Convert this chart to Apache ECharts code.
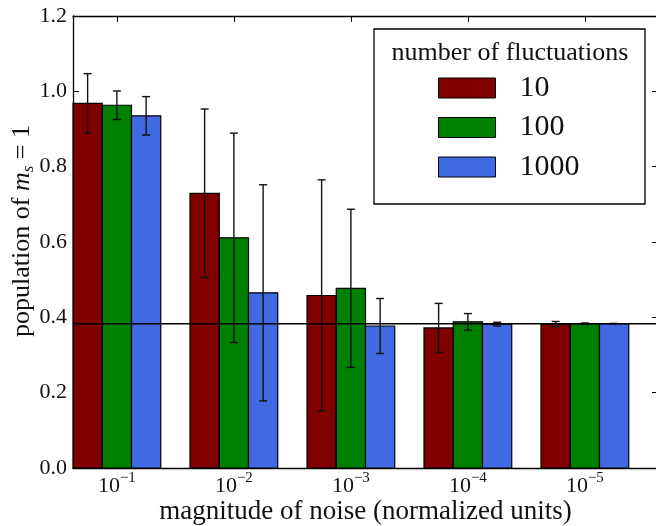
<!DOCTYPE html>
<html>
<head>
<meta charset="utf-8">
<script src="https://cdn.jsdelivr.net/npm/echarts@6/dist/echarts.min.js"></script>
<style>
html,body{margin:0;padding:0;background:#fff;}
#chart{width:656px;height:526px;}
</style>
</head>
<body>
<div id="chart"></div>
<script>
// ---- data ----
var groupExponents = ['1', '2', '3', '4', '5'];          // tick labels 10^-n
var seriesNames = ['10', '100', '1000'];                  // number of fluctuations
var means10   = [0.968, 0.729, 0.458, 0.372, 0.382];
var means100  = [0.963, 0.611, 0.477, 0.388, 0.383];
var means1000 = [0.935, 0.465, 0.377, 0.382, 0.383];
var errs10    = [0.079, 0.224, 0.307, 0.065, 0.007];
var errs100   = [0.038, 0.278, 0.210, 0.022, 0.002];
var errs1000  = [0.051, 0.287, 0.073, 0.005, 0.001];
var referenceLevel = 0.383;

var FONT = 'Liberation Serif';
var colors = ['#800000', '#008000', '#4169E1'];
var means = [means10, means100, means1000];
var errs = [errs10, errs100, errs1000];
var BAR_W = 0.25;
var tickValues = groupExponents.map(function (e, i) { return i + 1.5 * BAR_W; });

var chart = echarts.init(document.getElementById('chart'), null, {renderer: 'canvas'});

function renderBar(params, api) {
  var x = api.value(0), y = api.value(1), e = api.value(2);
  var p0 = api.coord([x - BAR_W / 2, 0]);
  var p1 = api.coord([x + BAR_W / 2, y]);
  var eTop = api.coord([x, y + e]);
  var eBot = api.coord([x, y - e]);
  var cap = 4;
  return {
    type: 'group',
    children: [
      {type: 'rect', shape: {x: p0[0], y: p1[1], width: p1[0] - p0[0], height: p0[1] - p1[1]},
       style: {fill: api.visual('color'), stroke: '#000', lineWidth: 1.2}},
      {type: 'line', shape: {x1: eTop[0], y1: eTop[1], x2: eBot[0], y2: eBot[1]},
       style: {stroke: '#111', lineWidth: 1.4}, z2: 5},
      {type: 'line', shape: {x1: eTop[0] - cap, y1: eTop[1], x2: eTop[0] + cap, y2: eTop[1]},
       style: {stroke: '#111', lineWidth: 1.4}, z2: 5},
      {type: 'line', shape: {x1: eBot[0] - cap, y1: eBot[1], x2: eBot[0] + cap, y2: eBot[1]},
       style: {stroke: '#111', lineWidth: 1.4}, z2: 5}
    ]
  };
}

var series = seriesNames.map(function (name, s) {
  return {
    name: name,
    type: 'custom',
    xAxisIndex: 0, yAxisIndex: 0,
    itemStyle: {color: colors[s], borderColor: '#000', borderWidth: 1},
    renderItem: renderBar,
    encode: {x: 0, y: 1},
    data: means[s].map(function (m, i) { return [i + BAR_W / 2 + s * BAR_W, m, errs[s][i]]; }),
    z: 2
  };
});
series.push({
  name: 'ref',
  type: 'line',
  xAxisIndex: 0, yAxisIndex: 0,
  data: [[0, referenceLevel], [5, referenceLevel]],
  symbol: 'none',
  lineStyle: {color: '#000', width: 1.3},
  silent: true,
  z: 4
});

function axLine() { return {show: true, onZero: false, lineStyle: {color: '#000', width: 1.3}}; }
function ticks(custom) {
  var t = {show: true, inside: true, length: 6, lineStyle: {color: '#000', width: 1}};
  if (custom) t.customValues = custom;
  return t;
}

var option = {
  animation: false,
  backgroundColor: '#fff',
  textStyle: {fontFamily: FONT},
  grid: {left: 73, top: 16, width: 585, height: 452, containLabel: false, outerBoundsMode: 'none'},
  xAxis: [{
    type: 'value', min: 0, max: 5, position: 'bottom',
    axisLine: axLine(),
    axisTick: ticks(tickValues),
    splitLine: {show: false},
    axisLabel: {
      customValues: tickValues,
      margin: 3,
      formatter: function (v) {
        var i = Math.round(v - 1.5 * BAR_W);
        return '{b|10}{s|\u2212' + groupExponents[i] + '}';
      },
      rich: {
        b: {fontFamily: FONT, fontSize: 22, color: '#111', verticalAlign: 'bottom', lineHeight: 26},
        s: {fontFamily: FONT, fontSize: 15, color: '#111', verticalAlign: 'top', lineHeight: 15}
      }
    },
    name: 'magnitude of noise (normalized units)',
    nameLocation: 'middle',
    nameMoveOverlap: false,
    nameGap: 30,
    nameTextStyle: {fontFamily: FONT, fontSize: 27, color: '#111'}
  }, {
    type: 'value', min: 0, max: 5, position: 'top',
    axisLine: axLine(),
    axisTick: ticks(tickValues),
    axisLabel: {show: false},
    splitLine: {show: false}
  }],
  yAxis: [{
    type: 'value', min: 0, max: 1.2, interval: 0.2, position: 'left',
    axisLine: axLine(),
    axisTick: ticks(),
    splitLine: {show: false},
    axisLabel: {
      margin: 6, fontFamily: FONT, fontSize: 22, color: '#111',
      formatter: function (v) { return v.toFixed(1); }
    },
    name: '{n|population of }{i|m}{sub|s}{n| = 1}',
    nameLocation: 'middle',
    nameMoveOverlap: false,
    nameRotate: 90,
    nameGap: 36,
    nameTextStyle: {
      padding: [0, 0, 0, 22],
      rich: {
        n: {fontFamily: FONT, fontSize: 26, color: '#111', verticalAlign: 'middle', lineHeight: 30},
        i: {fontFamily: FONT, fontSize: 26, fontStyle: 'italic', color: '#111', verticalAlign: 'middle', lineHeight: 30},
        sub: {fontFamily: FONT, fontSize: 17, fontStyle: 'italic', color: '#111', verticalAlign: 'bottom', lineHeight: 20}
      }
    }
  }, {
    type: 'value', min: 0, max: 1.2, interval: 0.2, position: 'right',
    axisLine: axLine(),
    axisTick: ticks(),
    axisLabel: {show: false},
    splitLine: {show: false}
  }],
  legend: {
    data: seriesNames,
    orient: 'vertical',
    left: 438, top: 73,
    itemWidth: 57, itemHeight: 20, itemGap: 9.5,
    icon: 'rect',
    itemStyle: {borderColor: '#000', borderWidth: 1},
    textStyle: {fontFamily: FONT, fontSize: 30, color: '#111', padding: [0, 0, 0, 19]},
    padding: 0,
    z: 10
  },
  graphic: [{
    type: 'rect', z: 5,
    shape: {x: 374, y: 29, width: 271, height: 175},
    style: {fill: '#fff', stroke: '#000', lineWidth: 1.3}
  }, {
    type: 'text', z: 6,
    x: 510, y: 53,
    style: {text: 'number of fluctuations', font: '26px "Liberation Serif"', fill: '#111',
            textAlign: 'center', textVerticalAlign: 'middle'}
  }],
  series: series
};
chart.setOption(option);
</script>
</body>
</html>
